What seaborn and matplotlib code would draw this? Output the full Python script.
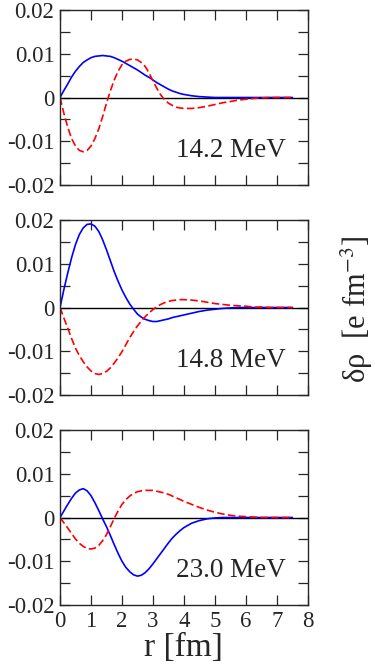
import numpy as np
import pandas as pd
import matplotlib
matplotlib.use("Agg")
import matplotlib.pyplot as plt
import seaborn as sns
from matplotlib.ticker import MultipleLocator, FuncFormatter

# radial grid (fm): fine steps up to 4 fm, coarser in the tail
r = [0.0, 0.125, 0.25, 0.375, 0.5, 0.625, 0.75, 0.875, 1.0, 1.125, 1.25, 1.375, 1.5, 1.625,
     1.75, 1.875, 2.0, 2.125, 2.25, 2.375, 2.5, 2.625, 2.75, 2.875, 3.0, 3.125, 3.25, 3.375,
     3.5, 3.625, 3.75, 3.875, 4.0,
     4.25, 4.5, 4.75, 5.0, 5.25, 5.5, 5.75, 6.0, 6.25, 6.5, 6.75, 7.0, 7.25, 7.5]

energies = ["14.2 MeV", "14.8 MeV", "23.0 MeV"]

# solid blue curves
blue_142 = [0.0, 0.0016, 0.0031, 0.0047, 0.0060, 0.0071, 0.0080, 0.0086, 0.0091, 0.0094,
            0.0095, 0.0096, 0.0095, 0.0094, 0.0091, 0.0087, 0.0083, 0.0078, 0.0073, 0.0068,
            0.0063, 0.0057, 0.0051, 0.0046, 0.0040, 0.0034, 0.0029, 0.0024, 0.0019, 0.0015,
            0.0012, 0.0009, 0.0007,
            0.0004, 0.0002, 0.0001, 0.0, 0.0, 0.0, 0.0, 0.0, 0.0, 0.0, 0.0, 0.0, 0.0, 0.0]
blue_148 = [0.0, 0.0041, 0.0079, 0.0114, 0.0144, 0.0167, 0.0182, 0.0190, 0.0191, 0.0186,
            0.0174, 0.0155, 0.0132, 0.0107, 0.0082, 0.0060, 0.0040, 0.0023, 0.0008, -0.0004,
            -0.0015, -0.0022, -0.0027, -0.0030, -0.0032, -0.0032, -0.0030, -0.0028, -0.0026,
            -0.0023, -0.0021, -0.0019, -0.0017,
            -0.0013, -0.0009, -0.0006, -0.0004, -0.0002, -0.0001, 0.0, 0.0, 0.0, 0.0, 0.0,
            0.0, 0.0, 0.0]
blue_230 = [0.0, 0.0015, 0.0030, 0.0044, 0.0056, 0.0063, 0.0066, 0.0061, 0.0050, 0.0034,
            0.0016, -0.0003, -0.0021, -0.0041, -0.0062, -0.0082, -0.0100, -0.0114, -0.0124,
            -0.0131, -0.0134, -0.0132, -0.0126, -0.0117, -0.0106, -0.0094, -0.0082, -0.0070,
            -0.0058, -0.0047, -0.0038, -0.0030, -0.0023,
            -0.0013, -0.0007, -0.0003, -0.0001, 0.0, 0.0, 0.0, 0.0, 0.0, 0.0, 0.0, 0.0,
            0.0, 0.0]

# dashed red curves
red_142 = [0.0, -0.0036, -0.0068, -0.0094, -0.0111, -0.0121, -0.0124, -0.0121, -0.0111,
           -0.0094, -0.0072, -0.0044, -0.0013, 0.0015, 0.0040, 0.0060, 0.0075, 0.0083, 0.0087,
           0.0088, 0.0086, 0.0080, 0.0071, 0.0056, 0.0038, 0.0021, 0.0006, -0.0005, -0.0013,
           -0.0018, -0.0022, -0.0024, -0.0025,
           -0.0025, -0.0023, -0.0020, -0.0016, -0.0012, -0.0009, -0.0006, -0.0004, -0.0002,
           -0.0001, 0.0, 0.0, 0.0, 0.0]
red_148 = [0.0, -0.0024, -0.0047, -0.0071, -0.0093, -0.0110, -0.0124, -0.0136, -0.0145,
           -0.0151, -0.0153, -0.0151, -0.0146, -0.0138, -0.0127, -0.0115, -0.0101, -0.0085,
           -0.0069, -0.0055, -0.0042, -0.0031, -0.0021, -0.0012, -0.0005, 0.0002, 0.0007,
           0.0011, 0.0014, 0.0016, 0.0017, 0.0018, 0.0018,
           0.0017, 0.0015, 0.0012, 0.0009, 0.0007, 0.0005, 0.0004, 0.0003, 0.0001, 0.0001,
           0.0, 0.0, 0.0, 0.0]
red_230 = [0.0, -0.0012, -0.0024, -0.0037, -0.0049, -0.0059, -0.0066, -0.0071, -0.0072,
           -0.0070, -0.0064, -0.0053, -0.0039, -0.0021, -0.0002, 0.0015, 0.0030, 0.0041,
           0.0049, 0.0055, 0.0059, 0.0061, 0.0062, 0.0062, 0.0062, 0.0060, 0.0058, 0.0056,
           0.0053, 0.0049, 0.0045, 0.0041, 0.0037,
           0.0030, 0.0023, 0.0017, 0.0012, 0.0008, 0.0005, 0.0003, 0.0002, 0.0001, 0.0, 0.0,
           0.0, 0.0, 0.0]

blues = [blue_142, blue_148, blue_230]
reds = [red_142, red_148, red_230]

rows = []
for e, b, rd in zip(energies, blues, reds):
    for ri, bv, rv in zip(r, b, rd):
        rows.append({"r": ri, "rho": bv, "energy": e, "kind": "solid"})
        rows.append({"r": ri, "rho": rv, "energy": e, "kind": "dashed"})
df = pd.DataFrame(rows)

sns.set_style("ticks")
plt.rcParams["font.family"] = ["Liberation Serif", "DejaVu Serif"]
plt.rcParams["mathtext.fontset"] = "stix"

fig = plt.figure(figsize=(3.75, 6.72), dpi=100)
bottoms = [0.7247, 0.4122, 0.0997]

def yfmt(v, pos):
    if abs(v) < 1e-9:
        return "0"
    return f"{v:.2f}"

for i, e in enumerate(energies):
    ax = fig.add_axes([0.16, bottoms[i], 0.661, 0.2604])
    sub = df[df["energy"] == e]
    ax.axhline(0, color="black", lw=1.0, zorder=1)
    sns.lineplot(data=sub, x="r", y="rho", hue="kind", style="kind",
                 palette={"solid": "#0000ff", "dashed": "#ff0000"},
                 dashes={"solid": "", "dashed": (4.5, 2)},
                 lw=1.2, legend=False, ax=ax, estimator=None, sort=False)
    ax.set_xlim(0, 8)
    ax.set_ylim(-0.02, 0.02)
    ax.xaxis.set_major_locator(MultipleLocator(1))
    ax.yaxis.set_major_locator(MultipleLocator(0.01))
    ax.yaxis.set_minor_locator(MultipleLocator(0.005))
    ax.yaxis.set_major_formatter(FuncFormatter(yfmt))
    ax.tick_params(which="both", direction="in", top=True, right=True,
                   labelsize=16.5, width=0.9, pad=4, length=7)
    for s in ax.spines.values():
        s.set_linewidth(1.0)
    ax.set_xlabel("")
    ax.set_ylabel("")
    if i < 2:
        ax.set_xticklabels([])
    else:
        ax.set_xlabel("r [fm]", fontsize=24, labelpad=1)
    ax.text(0.91, 0.2, e, transform=ax.transAxes, ha="right", va="center", fontsize=19.5)

fig.text(0.952, 0.539, "δρ  [e fm$^{-3}$]", rotation=90, ha="center", va="center",
         fontsize=22)

fig.savefig("out.png", dpi=100)
